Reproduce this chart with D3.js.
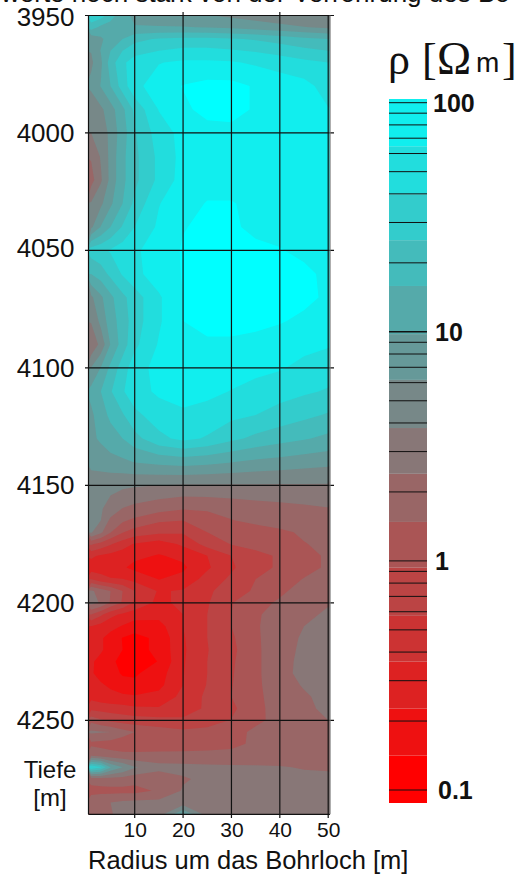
<!DOCTYPE html>
<html><head><meta charset="utf-8">
<script src="https://cdn.jsdelivr.net/npm/d3@7"></script>
<style>html,body{margin:0;padding:0;background:#fff;overflow:hidden}svg{display:block}text{font-family:"Liberation Sans",Arial,sans-serif;fill:#111}</style>
</head><body><svg id="c" width="515" height="877"></svg>
<script>
const radii=[1,3,5,7.5,10,15,20,25,30,35,40,45,50];
const depths=[3950,3955,3960,3965,3970,3980,3990,4000,4010,4020,4030,4040,4050,4060,4070,4080,4090,4100,4110,4120,4130,4140,4150,4160,4165,4170,4175,4180,4185,4190,4195,4200,4205,4210,4215,4220,4225,4230,4235,4240,4245,4250,4255,4260,4265,4270,4275,4280,4285,4290];
// log10 of resistivity, one row per depth
const logRho=[
[1.55,1.5,1.3,1.05,0.95,0.9,0.85,0.8,0.75,0.7,0.65,0.6,0.58],
[1.3,1.15,1.1,1.05,1.0,1.0,1.0,0.98,0.95,0.9,0.85,0.8,0.75],
[0.85,0.95,1.1,1.2,1.35,1.42,1.45,1.45,1.42,1.38,1.32,1.25,1.2],
[0.8,1.0,1.2,1.4,1.5,1.6,1.65,1.65,1.62,1.58,1.52,1.45,1.4],
[0.75,0.95,1.3,1.55,1.72,1.8,1.85,1.85,1.83,1.78,1.72,1.65,1.6],
[0.85,1.0,1.2,1.5,1.75,1.92,2.03,2.08,2.08,2.0,1.93,1.88,1.72],
[0.6,0.75,0.9,1.15,1.45,1.82,1.98,2.08,2.08,2.0,1.92,1.88,1.82],
[0.58,0.65,0.85,1.1,1.38,1.7,1.88,1.95,1.97,1.95,1.92,1.9,1.9],
[0.4,0.6,0.85,1.15,1.35,1.65,1.88,1.92,1.93,1.93,1.93,1.93,1.93],
[0.3,0.55,0.85,1.15,1.35,1.65,1.9,1.95,1.95,1.94,1.93,1.93,1.93],
[0.6,0.75,0.95,1.2,1.45,1.8,1.95,2.03,2.03,1.98,1.95,1.93,1.93],
[0.75,1.0,1.2,1.42,1.6,1.85,2.01,2.06,2.04,1.99,1.96,1.95,1.95],
[1.5,1.55,1.62,1.7,1.78,1.9,2.04,2.08,2.08,2.05,2.03,1.98,1.95],
[1.2,1.3,1.45,1.62,1.75,1.92,2.03,2.1,2.12,2.12,2.1,2.06,1.98],
[0.75,0.95,1.15,1.35,1.5,1.78,2.02,2.12,2.15,2.15,2.12,2.08,1.98],
[0.6,0.85,1.1,1.3,1.5,1.78,2.02,2.1,2.1,2.08,2.04,1.97,1.92],
[0.4,0.65,1.0,1.3,1.55,1.83,1.95,1.98,1.98,1.95,1.9,1.87,1.83],
[0.8,1.0,1.25,1.5,1.72,1.88,1.93,1.93,1.92,1.88,1.83,1.75,1.7],
[1.05,1.2,1.38,1.58,1.72,1.85,1.88,1.87,1.8,1.72,1.68,1.63,1.58],
[0.95,1.1,1.25,1.38,1.55,1.7,1.78,1.72,1.65,1.6,1.52,1.45,1.38],
[0.95,1.02,1.1,1.2,1.33,1.55,1.65,1.58,1.45,1.35,1.28,1.22,1.15],
[0.85,0.88,0.92,0.95,1.0,1.05,1.08,1.05,1.0,0.95,0.92,0.88,0.85],
[0.68,0.66,0.64,0.62,0.6,0.58,0.56,0.56,0.56,0.56,0.56,0.56,0.56],
[0.64,0.6,0.5,0.37,0.32,0.24,0.18,0.2,0.24,0.28,0.31,0.34,0.37],
[0.62,0.58,0.33,0.2,0.12,0.0,-0.03,0.05,0.16,0.22,0.26,0.3,0.34],
[0.6,0.42,0.18,-0.02,-0.12,-0.2,-0.22,-0.03,0.02,0.07,0.13,0.2,0.28],
[0.0,-0.1,-0.22,-0.35,-0.46,-0.55,-0.4,-0.16,-0.02,0.05,0.1,0.16,0.22],
[-0.4,-0.47,-0.5,-0.55,-0.6,-0.66,-0.6,-0.44,-0.24,-0.1,0.0,0.1,0.2],
[-0.55,-0.55,-0.58,-0.62,-0.7,-0.78,-0.68,-0.47,-0.27,-0.1,0.0,0.1,0.2],
[-0.24,-0.35,-0.42,-0.43,-0.5,-0.65,-0.58,-0.36,-0.2,-0.03,0.07,0.18,0.28],
[0.42,0.28,0.17,-0.03,-0.24,-0.46,-0.42,-0.28,-0.13,0.0,0.13,0.25,0.33],
[0.45,0.36,0.15,-0.05,-0.27,-0.5,-0.38,-0.26,-0.04,0.1,0.2,0.3,0.36],
[-0.03,-0.2,-0.38,-0.48,-0.55,-0.58,-0.44,-0.24,-0.03,0.15,0.23,0.32,0.42],
[-0.44,-0.52,-0.58,-0.66,-0.75,-0.72,-0.44,-0.24,-0.03,0.15,0.26,0.38,0.48],
[-0.5,-0.62,-0.72,-0.86,-0.92,-0.8,-0.46,-0.24,-0.06,0.14,0.28,0.41,0.49],
[-0.55,-0.62,-0.72,-0.85,-0.92,-0.8,-0.47,-0.25,-0.08,0.13,0.3,0.42,0.5],
[-0.62,-0.7,-0.8,-0.92,-0.97,-0.84,-0.46,-0.24,-0.06,0.13,0.3,0.44,0.52],
[-0.62,-0.72,-0.78,-0.87,-0.88,-0.74,-0.45,-0.24,-0.05,0.13,0.3,0.45,0.55],
[-0.58,-0.62,-0.68,-0.78,-0.8,-0.7,-0.44,-0.23,-0.04,0.13,0.28,0.4,0.5],
[-0.5,-0.55,-0.58,-0.6,-0.62,-0.58,-0.38,-0.2,-0.03,0.13,0.25,0.35,0.45],
[-0.3,-0.32,-0.34,-0.36,-0.4,-0.42,-0.36,-0.2,-0.08,0.13,0.23,0.32,0.44],
[0.1,0.0,-0.08,-0.12,-0.15,-0.18,-0.2,-0.12,-0.02,0.12,0.24,0.32,0.38],
[0.42,0.4,0.38,0.25,0.17,0.08,0.02,0.03,0.08,0.22,0.27,0.3,0.33],
[0.12,0.1,0.08,0.06,0.05,0.05,0.05,0.06,0.1,0.22,0.26,0.3,0.32],
[0.35,0.3,0.25,0.22,0.22,0.23,0.24,0.25,0.26,0.28,0.3,0.32,0.34],
[1.58,1.42,1.0,0.79,0.6,0.46,0.44,0.42,0.41,0.4,0.39,0.37,0.36],
[0.25,0.28,0.3,0.3,0.25,0.22,0.36,0.42,0.42,0.42,0.42,0.42,0.42],
[0.1,0.1,0.1,0.1,0.1,0.2,0.4,0.44,0.44,0.45,0.45,0.45,0.45],
[0.3,0.35,0.38,0.42,0.44,0.44,0.46,0.48,0.48,0.47,0.46,0.46,0.46],
[0.2,0.28,0.37,0.42,0.45,0.48,1.0,0.48,0.47,0.47,0.46,0.46,0.46]
];
const thresholds=[-0.85,-0.645,-0.44,-0.24,-0.03,0.17,0.38,0.58,0.79,0.99,1.2,1.4,1.6,1.81,2.02];
const bandColors=["#ff0000","#ee1111","#dd2222","#cc3333","#bb4444","#aa5555","#996666","#887777","#778888","#669999","#55aaaa","#44bbbb","#33cccc","#22dddd","#11eeee","#00ffff"];
const radiusTicks=[10,20,30,40,50];
const depthTicks=[3950,4000,4050,4100,4150,4200,4250];
const barTicks=[0.1,0.2,0.3,0.4,0.5,0.6,0.7,0.8,0.9,1,2,3,4,5,6,7,8,9,10,20,30,40,50,60,70,80,90,100];
const barLabels=[{v:0.1,t:"0.1",dx:11},{v:1,t:"1",dx:8},{v:10,t:"10",dx:8},{v:100,t:"100",dx:6}];

const svg=d3.select("#c");
const x=d3.scaleLinear().domain([10,50]).range([134.7,328.2]);
const y=d3.scaleLinear().domain([3950,4250]).range([15.5,720.3]);
const barY=d3.scaleLog().domain([0.1,100]).range([790,102.7]);
const plot={l:88.5,r:330,t:15.5,b:814.3};

svg.append("clipPath").attr("id","pc").append("rect").attr("x",plot.l).attr("y",plot.t).attr("width",plot.r-plot.l).attr("height",plot.b-plot.t);
const idxR=d3.scaleLinear().domain(radii.map((_,i)=>i+0.5)).range(radii);
const idxD=d3.scaleLinear().domain(depths.map((_,i)=>i+0.5)).range(depths);
const contours=d3.contours().size([radii.length,depths.length]).thresholds(thresholds);
const sets=contours(logRho.flat());
const path=d3.geoPath(d3.geoTransform({point(a,b){this.stream.point(x(idxR(a)),y(idxD(b)));}}));
const g=svg.append("g").attr("clip-path","url(#pc)");
g.append("rect").attr("x",plot.l).attr("y",plot.t).attr("width",plot.r-plot.l).attr("height",plot.b-plot.t).attr("fill",bandColors[0]);
g.selectAll("path").data(sets).join("path").attr("d",path).attr("fill",(d,i)=>bandColors[i+1]);

// grid
const grid=svg.append("g").attr("stroke","#111").attr("stroke-width",1.2);
grid.selectAll(".h").data(depthTicks).join("line").attr("x1",85).attr("x2",334).attr("y1",d=>y(d)).attr("y2",d=>y(d));
grid.selectAll(".v").data(radiusTicks).join("line").attr("x1",d=>x(d)).attr("x2",d=>x(d)).attr("y1",d=>(d==20||d==40)?12:plot.t).attr("y2",818);
grid.append("line").attr("x1",plot.l).attr("x2",plot.l).attr("y1",plot.t).attr("y2",plot.b);
grid.append("line").attr("x1",plot.l).attr("x2",plot.r).attr("y1",plot.b).attr("y2",plot.b);
grid.append("line").attr("x1",plot.r).attr("x2",plot.r).attr("y1",plot.t).attr("y2",plot.b).attr("stroke","#777");

// axis labels
svg.selectAll(".dl").data(depthTicks).join("text").attr("x",74.5).attr("y",d=>y(d)+(d==3950?10.5:d==4050?7:9)).attr("text-anchor","end").attr("font-size",26).text(d=>d);
svg.selectAll(".rl").data(radiusTicks).join("text").attr("x",d=>x(d)+0.5).attr("y",837).attr("text-anchor","middle").attr("font-size",21).text(d=>d);
svg.append("text").attr("x",88).attr("y",869).attr("font-size",25.5).text("Radius um das Bohrloch [m]");
svg.append("text").attr("x",50).attr("y",777.5).attr("text-anchor","middle").attr("font-size",24).text("Tiefe");
svg.append("text").attr("x",50).attr("y",806).attr("text-anchor","middle").attr("font-size",24).text("[m]");
svg.append("text").attr("x",1).attr("y",2).attr("font-size",26).text("werte noch stark von der Verrohrung des Bo");

// colour bar
const barEdges=[0.07,...thresholds.map(t=>Math.pow(10,t)),110];
const barTop=99,barBottom=803,barL=389,barR=427;
svg.append("g").selectAll("rect").data(bandColors).join("rect").attr("x",barL).attr("width",barR-barL)
 .attr("y",(d,i)=>Math.max(barTop,barY(barEdges[i+1])))
 .attr("height",(d,i)=>Math.max(0,Math.min(barBottom,barY(barEdges[i]))-Math.max(barTop,barY(barEdges[i+1]))))
 .attr("fill",d=>d);
svg.append("g").attr("stroke","#111").selectAll("line").data(barTicks).join("line")
 .attr("x1",barL).attr("x2",barR).attr("y1",d=>barY(d)).attr("y2",d=>barY(d)).attr("stroke-width",d=>d==10?1.6:1);
svg.selectAll(".bl").data(barLabels).join("text").attr("x",d=>barR+d.dx).attr("y",d=>barY(d.v)+9).attr("font-size",25).attr("font-weight","bold").text(d=>d.t);
const serif="'Liberation Serif'";
svg.append("text").attr("x",388).attr("y",73.5).attr("font-size",44).style("font-family",serif).text("ρ");
svg.append("text").attr("x",422).attr("y",73.5).attr("font-size",44).style("font-family",serif).text("[");
svg.append("text").attr("x",437).attr("y",73.5).attr("font-size",46).style("font-family",serif).text("Ω");
svg.append("text").attr("x",476).attr("y",72).attr("font-size",28).text("m");
svg.append("text").attr("x",502).attr("y",73.5).attr("font-size",44).style("font-family",serif).text("]");
</script></body></html>
